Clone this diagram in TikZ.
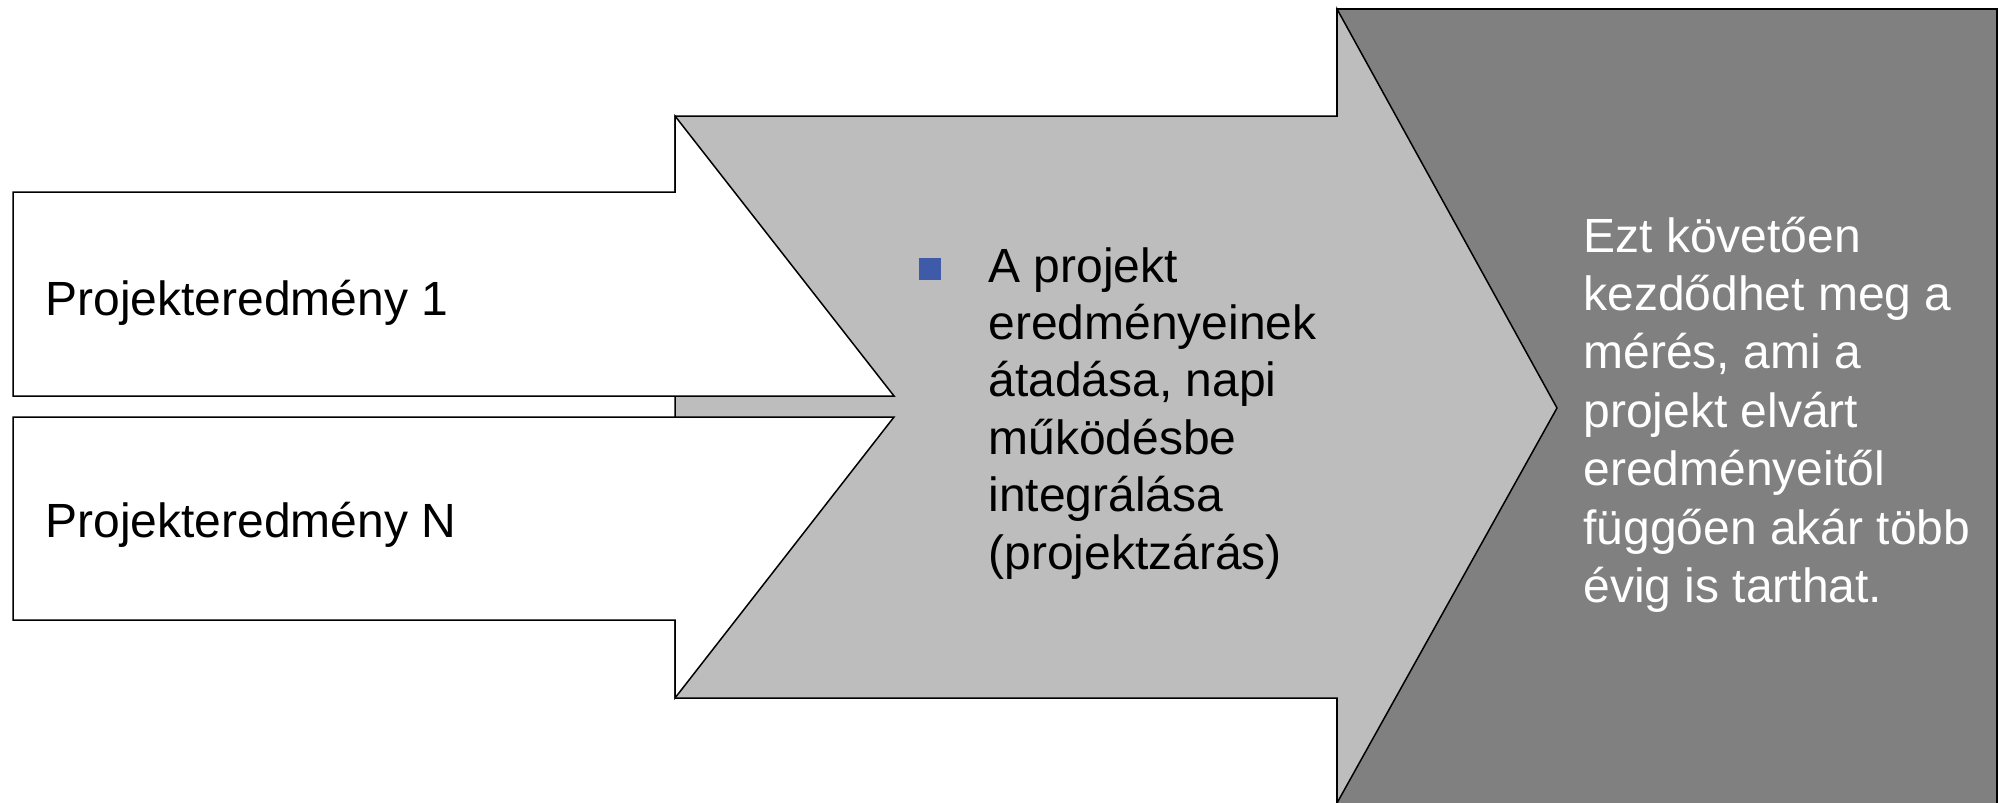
\documentclass[tikz,border=0pt]{standalone}
\usepackage{fontspec}
\setmainfont{Liberation Sans}
\definecolor{lightarrow}{RGB}{189,189,189}
\definecolor{darkbox}{RGB}{128,128,128}
\definecolor{bulletblue}{RGB}{62,90,168}
\tikzset{
  outline/.style={draw=black, line width=0.75pt, line join=miter},
  bodytext/.style={anchor=base west, inner sep=0pt,
    font=\fontsize{24}{28.7}\selectfont},
}
\begin{document}
\begin{tikzpicture}[x=0.5pt, y=-0.5pt]
  \useasboundingbox (0,0) rectangle (1998,803);

  % dark outcome panel
  \fill[darkbox] (1337,9) rectangle (1998,803);
  \draw[outline] (1337,803) -- (1337,9) -- (1997,9) -- (1997,803);

  % light grey closing arrow
  \path[outline, fill=lightarrow]
    (675,116) -- (1337,116) -- (1337,9) -- (1557,408) -- (1337,803)
    -- (1337,698) -- (675,698) -- cycle;

  % result boxes
  \path[outline, fill=white]
    (13,192) -- (675,192) -- (675,116) -- (894,396) -- (13,396) -- cycle;
  \path[outline, fill=white]
    (13,417) -- (894,417) -- (675,698) -- (675,620) -- (13,620) -- cycle;

  \node[bodytext] (res1) at (45,315) {Projekteredmény 1};
  \node[bodytext] (resN) at (45,537) {Projekteredmény N};

  % bullet item in the arrow
  \node[fill=bulletblue, minimum size=11pt, inner sep=0pt] (bullet) at (930,268.5) {};
  \node[bodytext] (closing) at (988,282) {\parbox[t]{200pt}{\raggedright
    A projekt\\
    eredményeinek\\
    átadása, napi\\
    működésbe\\
    integrálása\\
    (projektzárás)}};

  % outcome text
  \node[bodytext, text=white, font=\fontsize{24}{29.2}\selectfont] (outcome)
    at (1583,252) {\parbox[t]{220pt}{\raggedright
    Ezt követően\\
    kezdődhet meg a\\
    mérés, ami a\\
    projekt elvárt\\
    eredményeitől\\
    függően akár több\\
    évig is tarthat.}};
\end{tikzpicture}
\end{document}
